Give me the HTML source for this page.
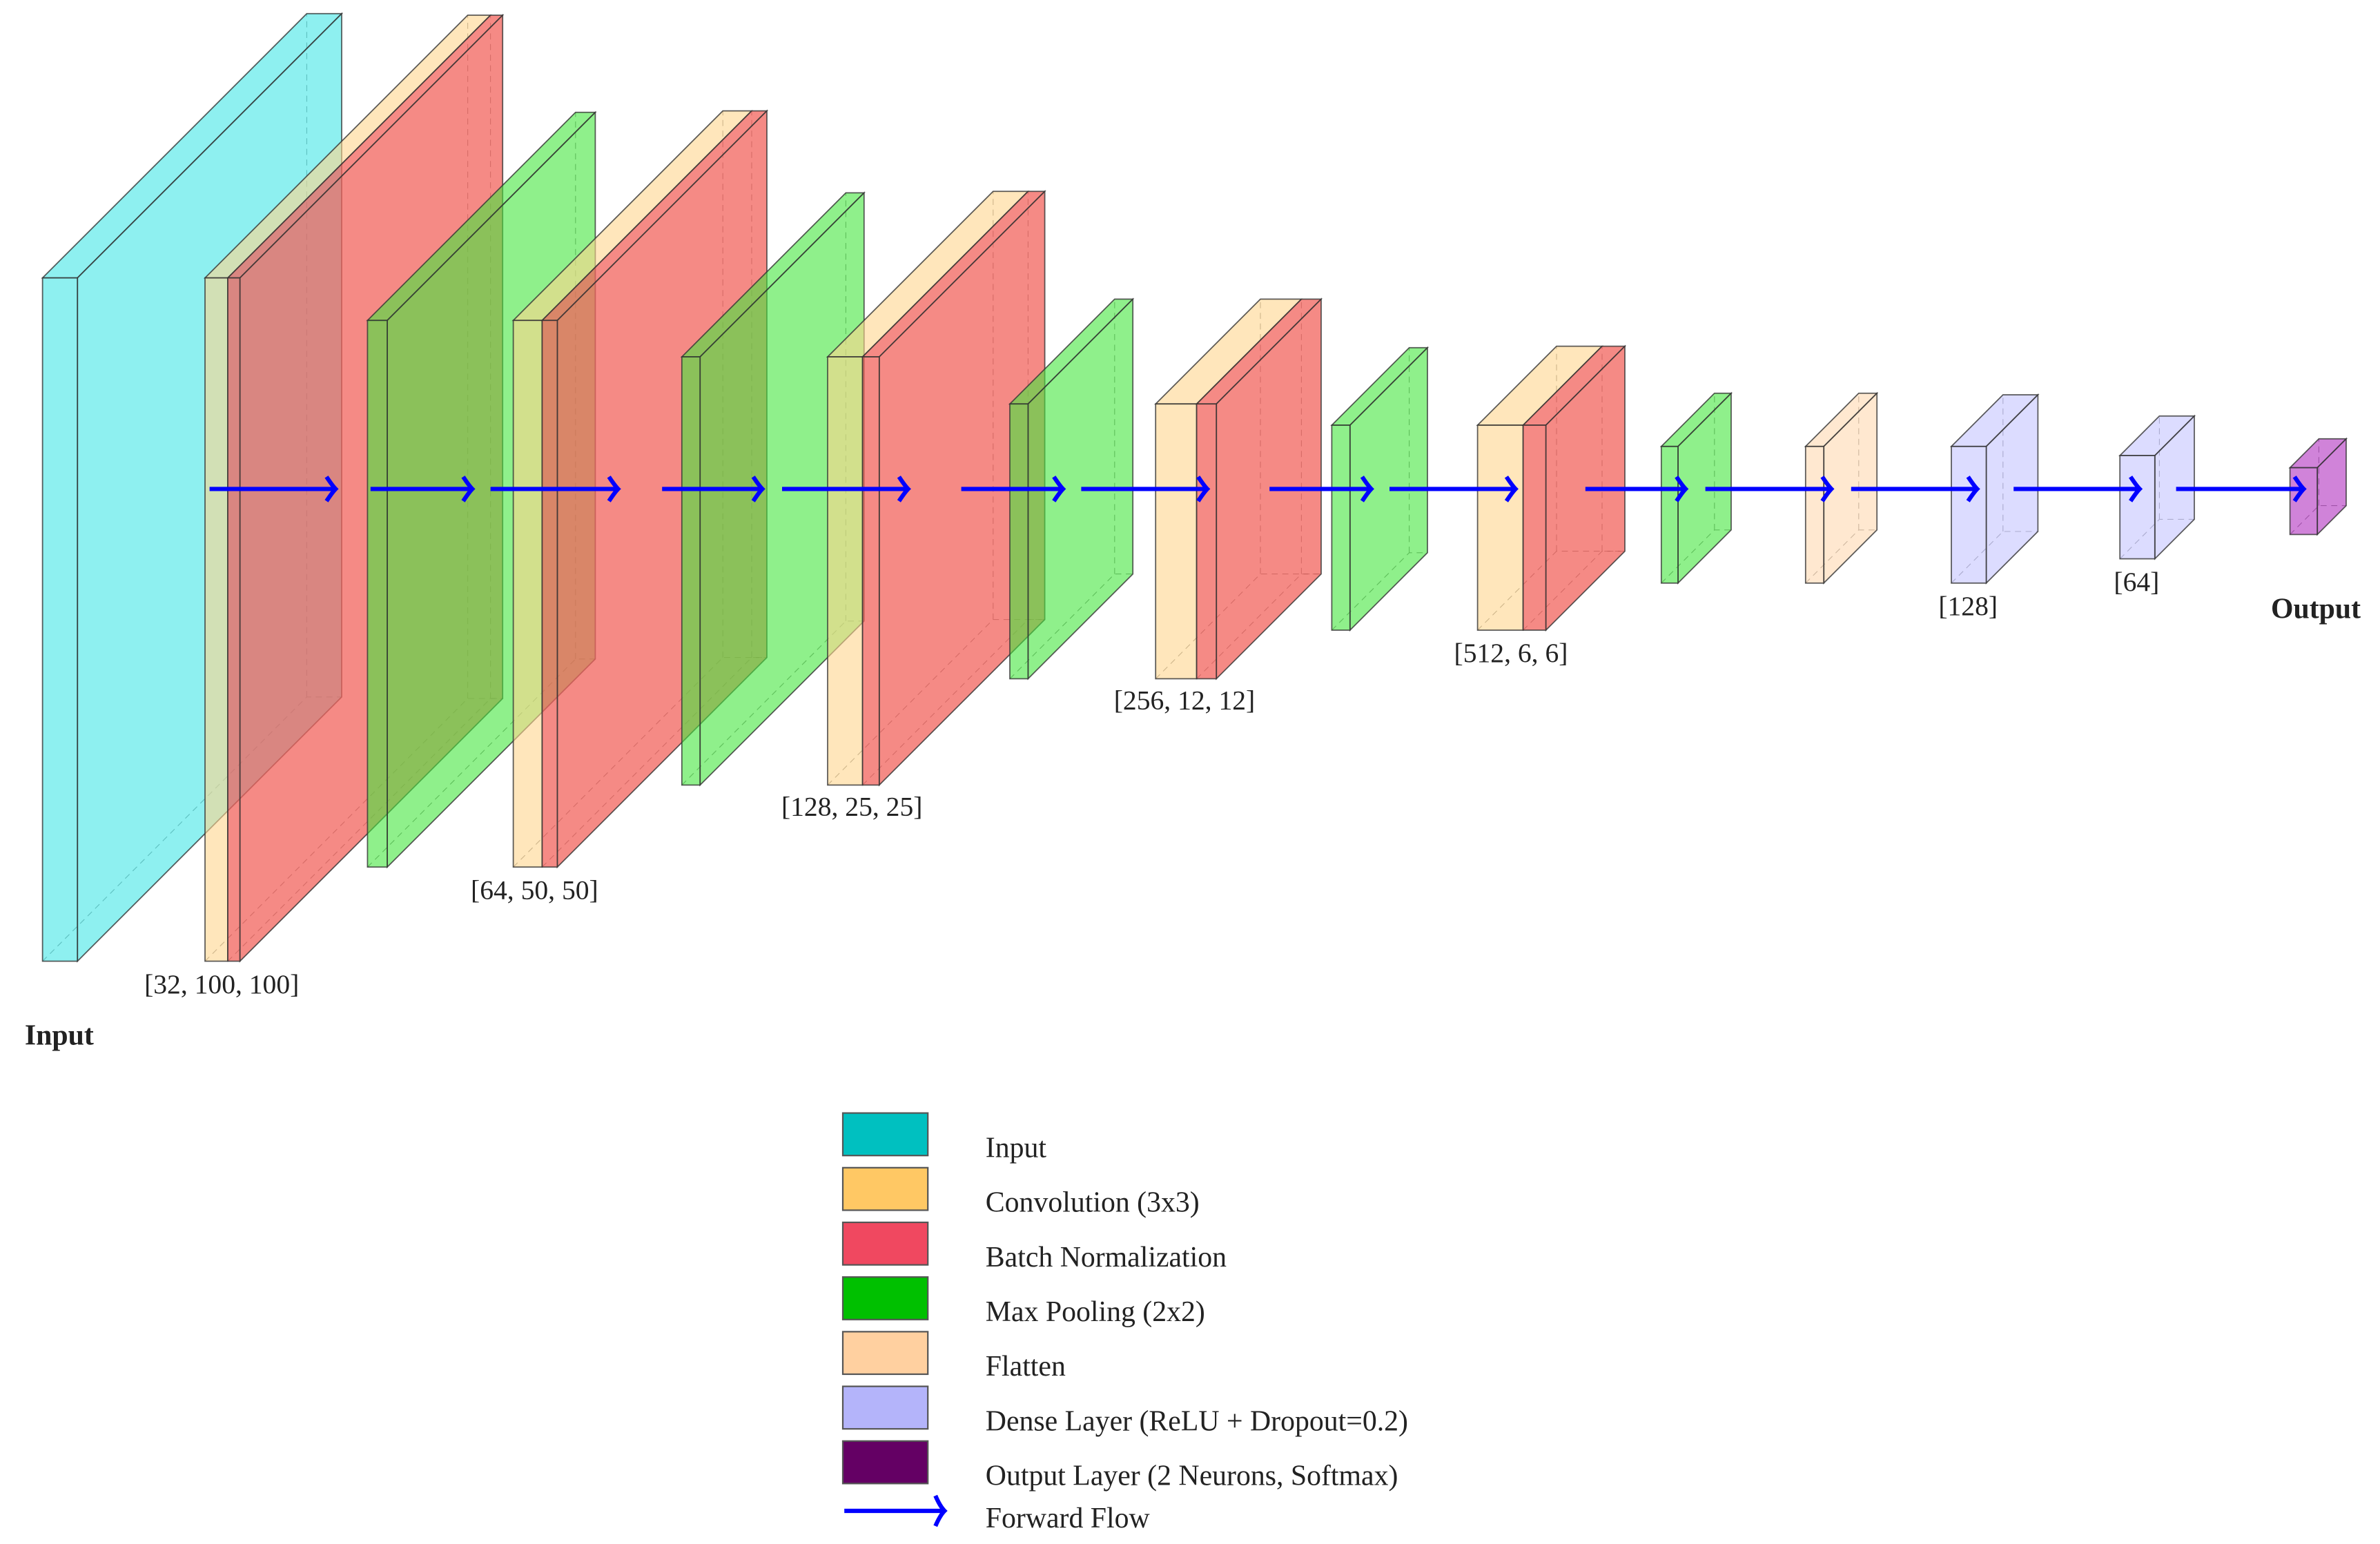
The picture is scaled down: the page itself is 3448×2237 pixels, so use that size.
<!DOCTYPE html>
<html><head><meta charset="utf-8"><style>
html,body{margin:0;padding:0;background:#fff;}
svg{display:block;}
text{font-family:"Liberation Serif",serif;fill:#222;}
</style></head><body>
<svg id="c" width="3448" height="2237" viewBox="0 0 1567.27 1016.82" xmlns="http://www.w3.org/2000/svg"></svg>
<script>
// layer kinds and geometry (thumbnail units)
const kinds = ["input","conv","pool","conv","pool","conv","pool","conv","pool","conv","pool","flatten","dense","dense","output"];
const frontX0 = [28,135,242,338,449,545,665,761,877,973,1094,1189,1285,1396,1508];
const frontX1 = [51,158,255,367,461,579,677,801,889,1018,1105,1201,1308,1419,1526];
const splitX  = [0,150,0,357,0,568,0,788,0,1003,0,0,0,0,0];
const topY    = [183,183,211,211,235,235,266,266,280,280,294,294,294,300,308];
const botY    = [633,633,571,571,517,517,447,447,415,415,384,384,384,368,352];
const depth   = [174,173,137,138,108,109,69,69,51,52,35,35,34,26,19];
const dims = ["[32, 100, 100]","[64, 50, 50]","[128, 25, 25]","[256, 12, 12]","[512, 6, 6]","[128]","[64]"];
const dimX = [146,352,561,780,995,1296,1407];
const dimY = [654,592,537,467,436,405,389];
const arrowStart = [138,244,323,436,515,633,712,836,915,1044,1123,1219,1326,1433];
const arrowEnd   = [221,311,407,502,598,700,795,903,998,1110,1206,1302,1409,1517];
const legendLabels = ["Input","Convolution (3x3)","Batch Normalization","Max Pooling (2x2)","Flatten","Dense Layer (ReLU + Dropout=0.2)","Output Layer (2 Neurons, Softmax)"];
const legendColors = ["#00c0c0","#ffc864","#f04860","#00c000","#ffd0a0","#b4b4fa","#640064"];

const fills = {input:"#43e6e6",conv:"#ffd58e",bn:"#f1635c",pool:"#44e63e",flatten:"#ffd8b0",dense:"#c4c4ff",output:"#b030c0"};
const svg = document.getElementById('c');
const NS = "http://www.w3.org/2000/svg";
function mk(tag, attrs){const e=document.createElementNS(NS,tag);for(const k in attrs)e.setAttribute(k,attrs[k]);return e;}

function box(g, x0, x1, t, b, d, fill, op, side){
  const dy=-d;
  const dash={stroke:"#333","stroke-width":0.5,"stroke-dasharray":"4,3",fill:"none","stroke-opacity":0.6};
  if(side) g.appendChild(mk('path',Object.assign({d:`M${x0},${b}L${x0+d},${b+dy}L${x1+d},${b+dy}M${x0+d},${b+dy}L${x0+d},${t+dy}`},dash)));
  const st={stroke:"#333","stroke-width":0.8,"stroke-opacity":0.8,fill:fill,"fill-opacity":op};
  g.appendChild(mk('path',Object.assign({d:`M${x0},${t}L${x0+d},${t+dy}L${x1+d},${t+dy}L${x1},${t}Z`},st)));
  if(side) g.appendChild(mk('path',Object.assign({d:`M${x1},${t}L${x1+d},${t+dy}L${x1+d},${b+dy}L${x1},${b}Z`},st)));
  g.appendChild(mk('rect',Object.assign({x:x0,y:t,width:x1-x0,height:b-t},st)));
}

for(let i=0;i<kinds.length;i++){
  const g=mk('g',{});
  
  
  const k=kinds[i];
  if(k==="conv"){
    const dy=-depth[i];
    g.appendChild(mk('path',{d:`M${frontX0[i]},${botY[i]}L${frontX0[i]+depth[i]},${botY[i]+dy}L${frontX1[i]+depth[i]},${botY[i]+dy}M${frontX0[i]+depth[i]},${botY[i]+dy}L${frontX0[i]+depth[i]},${topY[i]+dy}`,stroke:"#333","stroke-width":0.5,"stroke-dasharray":"4,3",fill:"none","stroke-opacity":0.6}));
    box(g,frontX0[i],splitX[i],topY[i],botY[i],depth[i],fills.conv,0.6,false);
    box(g,splitX[i],frontX1[i],topY[i],botY[i],depth[i],fills.bn,0.75,true);
  } else {
    box(g,frontX0[i],frontX1[i],topY[i],botY[i],depth[i],fills[k],0.6,true);
  }
  svg.appendChild(g);
}

for(let i=0;i<arrowStart.length;i++){
  const a=mk('path',{d:`M${arrowStart[i]},322L${arrowEnd[i]},322M${arrowEnd[i]-6},314Q${arrowEnd[i]-2},320 ${arrowEnd[i]},322Q${arrowEnd[i]-2},324 ${arrowEnd[i]-6},330`,stroke:"#0000ff","stroke-width":2.8,fill:"none"});
  
  
  svg.appendChild(a);
}

for(let i=0;i<dims.length;i++){
  const t=mk('text',{x:dimX[i],y:dimY[i],"font-size":18,"text-anchor":"middle"});
  t.textContent=dims[i];
  
  
  svg.appendChild(t);
}
const lin=mk('text',{x:39,y:688,"font-size":19,"font-weight":"bold","text-anchor":"middle"});lin.textContent="Input";


svg.appendChild(lin);
const lout=mk('text',{x:1525,y:407,"font-size":19,"font-weight":"bold","text-anchor":"middle"});lout.textContent="Output";


svg.appendChild(lout);

const leg=mk('g',{});


svg.appendChild(leg);
for(let i=0;i<legendLabels.length;i++){
  const y=733+i*36;
  const r=mk('rect',{x:555,y:y,width:56,height:28,fill:legendColors[i],stroke:"#555","stroke-width":1});
  
  
  leg.appendChild(r);
  const t=mk('text',{x:649,y:y+29,"font-size":19});
  t.textContent=legendLabels[i];
  
  
  leg.appendChild(t);
}
const la=mk('path',{d:"M556,995L621,995M616,985Q619,992 622,995Q619,998 616,1005",stroke:"#0000ff","stroke-width":2.8,fill:"none"});


leg.appendChild(la);
const lt=mk('text',{x:649,y:1006,"font-size":19});lt.textContent="Forward Flow";


leg.appendChild(lt);
</script>
</body></html>
